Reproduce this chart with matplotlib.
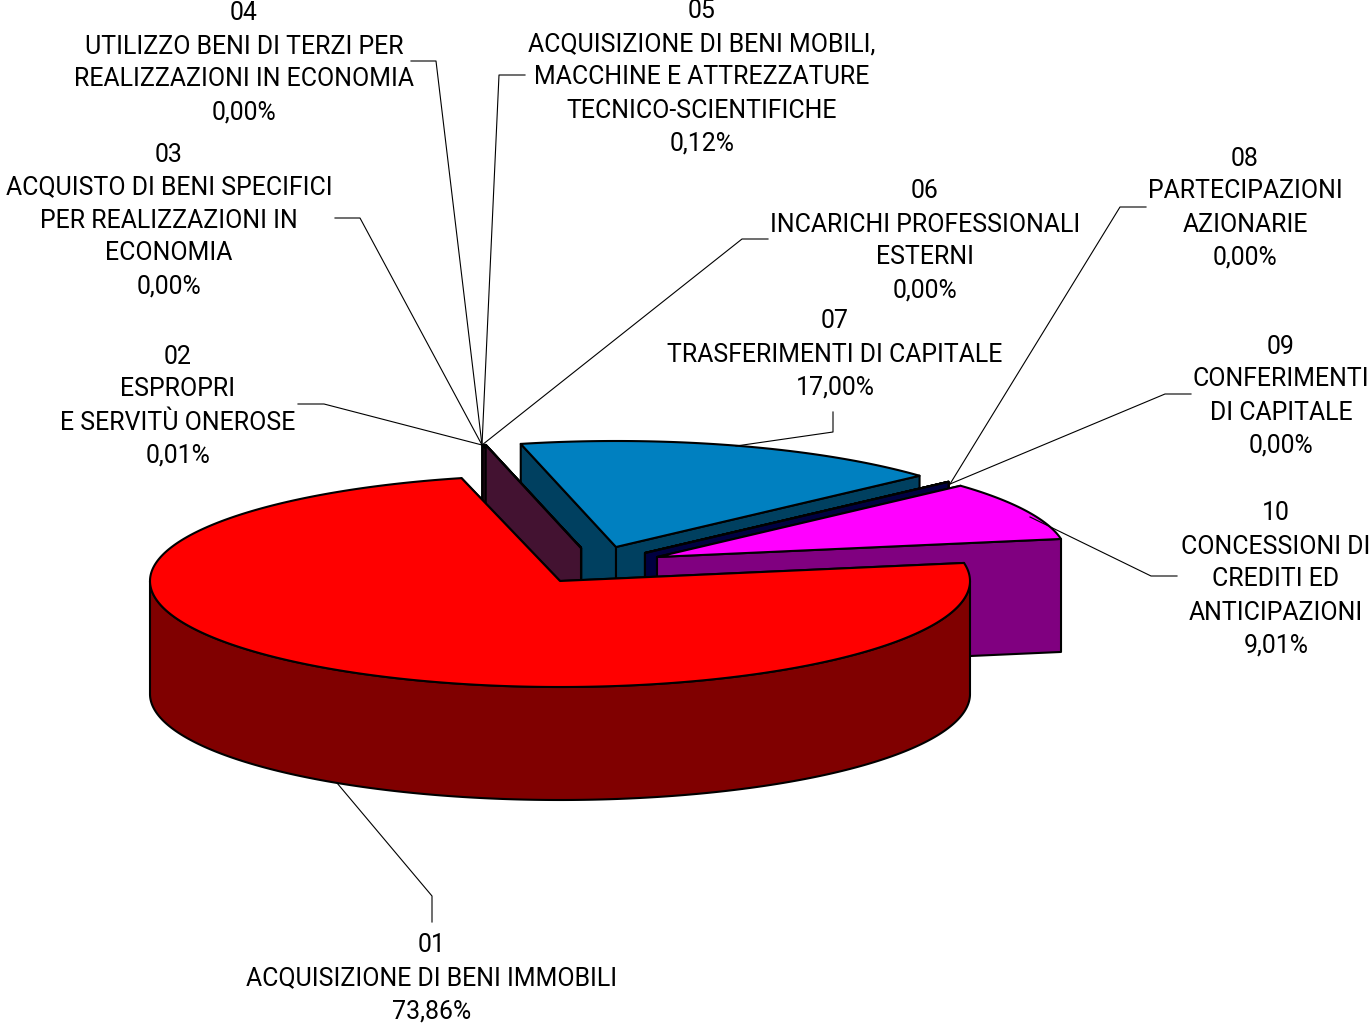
import numpy as np
import matplotlib
matplotlib.use("Agg")
import matplotlib.pyplot as plt
from matplotlib.patches import Polygon

codes = ["01", "02", "03", "04", "05", "06", "07", "08", "09", "10"]
names = [
    ["ACQUISIZIONE DI BENI IMMOBILI"],
    ["ESPROPRI", "E SERVITÙ ONEROSE"],
    ["ACQUISTO DI BENI SPECIFICI", "PER REALIZZAZIONI IN", "ECONOMIA"],
    ["UTILIZZO BENI DI TERZI PER", "REALIZZAZIONI IN ECONOMIA"],
    ["ACQUISIZIONE DI BENI MOBILI,", "MACCHINE E ATTREZZATURE", "TECNICO-SCIENTIFICHE"],
    ["INCARICHI PROFESSIONALI", "ESTERNI"],
    ["TRASFERIMENTI DI CAPITALE"],
    ["PARTECIPAZIONI", "AZIONARIE"],
    ["CONFERIMENTI", "DI CAPITALE"],
    ["CONCESSIONI DI", "CREDITI ED", "ANTICIPAZIONI"],
]
values = [73.86, 0.01, 0.00, 0.00, 0.12, 0.00, 17.00, 0.00, 0.00, 9.01]

# styles and layout
top_colors = ["#FF0000", "#801050", "#801050", "#801050", "#801050", "#801050",
              "#0080C0", "#000080", "#000080", "#FF00FF"]
side_colors = ["#800000", "#431231", "#431231", "#431231", "#431231", "#431231",
               "#004060", "#000040", "#000040", "#800080"]
explode = [(0, 0), (21, -33), (21, -33), (21, -33), (21, -33), (21, -33),
           (56, -34), (85, -28), (85, -28), (97, -24)]
label_pos = [(432, 943), (178, 354), (169, 152), (244, 11), (702, 9),
             (925, 189), (835, 319), (1245, 156), (1281, 344), (1276, 511)]
leaders = [
    [(432, 922), (432, 896), (337, 783)],
    [(298, 404), (324, 404), (482, 445)],
    [(335, 218), (360, 218), (482, 445)],
    [(411, 61), (436, 61), (482, 445)],
    [(525, 75), (499, 75), (482, 445)],
    [(768, 239), (742, 239), (482, 445)],
    [(833, 412), (833, 432), (736, 446)],
    [(1146, 207), (1120, 207), (950, 484)],
    [(1191, 394), (1165, 394), (950, 484)],
    [(1177, 576), (1151, 576), (1030, 517)],
]
draw_order = [6, 1, 2, 3, 4, 5, 7, 8, 9, 0]
CX, CY, RX, RY, DEPTH = 560, 581, 410, 106, 113
START = 9.8
LINE = 33
EDGE = dict(edgecolor="black", linewidth=1.5, joinstyle="round")

plt.rcParams["font.family"] = ["Roboto", "DejaVu Sans"]
fig = plt.figure(figsize=(13.71, 10.24), dpi=100, facecolor="white")
ax = fig.add_axes([0, 0, 1, 1])
ax.set_xlim(0, 1371)
ax.set_ylim(1024, 0)
ax.axis("off")

def ell(t, ox, oy, dz=0):
    t = np.radians(t)
    return np.column_stack([CX + ox + RX * np.cos(t), CY + oy - RY * np.sin(t) + dz])

# clockwise angular extent of every slice, from the values
total = sum(values)
ends = START - np.cumsum(values) / total * 360
starts = np.concatenate([[START], ends[:-1]])

for z, i in enumerate(draw_order):
    a, b = starts[i], ends[i]
    ox, oy = explode[i]
    apex = np.array([[CX + ox, CY + oy]])
    ts = np.linspace(a, b, max(3, int(abs(a - b) * 2)))
    down = np.array([0, DEPTH])
    for t in (a, b):
        rim = ell(np.array([t]), ox, oy)
        ax.add_patch(Polygon(np.vstack([apex, rim, rim + down, apex + down]),
                             closed=True, facecolor=side_colors[i], zorder=2 + z, **EDGE))
    front = ts[np.sin(np.radians(ts)) <= 0]
    if len(front) > 1:
        up = ell(front, ox, oy)
        ax.add_patch(Polygon(np.vstack([up, ell(front[::-1], ox, oy, DEPTH)]),
                             closed=True, facecolor=side_colors[i], zorder=2 + z, **EDGE))
    ax.add_patch(Polygon(np.vstack([apex, ell(ts, ox, oy)]), closed=True,
                         facecolor=top_colors[i], zorder=2 + z, **EDGE))

for pts in leaders:
    xs, ys = zip(*pts)
    ax.plot(xs, ys, color="black", lw=0.8, zorder=15)

for code, lines, v, (x, y) in zip(codes, names, values, label_pos):
    pct = f"{v:.2f}".replace(".", ",") + "%"
    for k, line in enumerate([code] + lines + [pct]):
        ax.text(x, y + k * LINE, line, ha="center", va="center_baseline",
                fontsize=17.9, color="black", zorder=20)

fig.savefig("out.png", dpi=100, facecolor="white")
